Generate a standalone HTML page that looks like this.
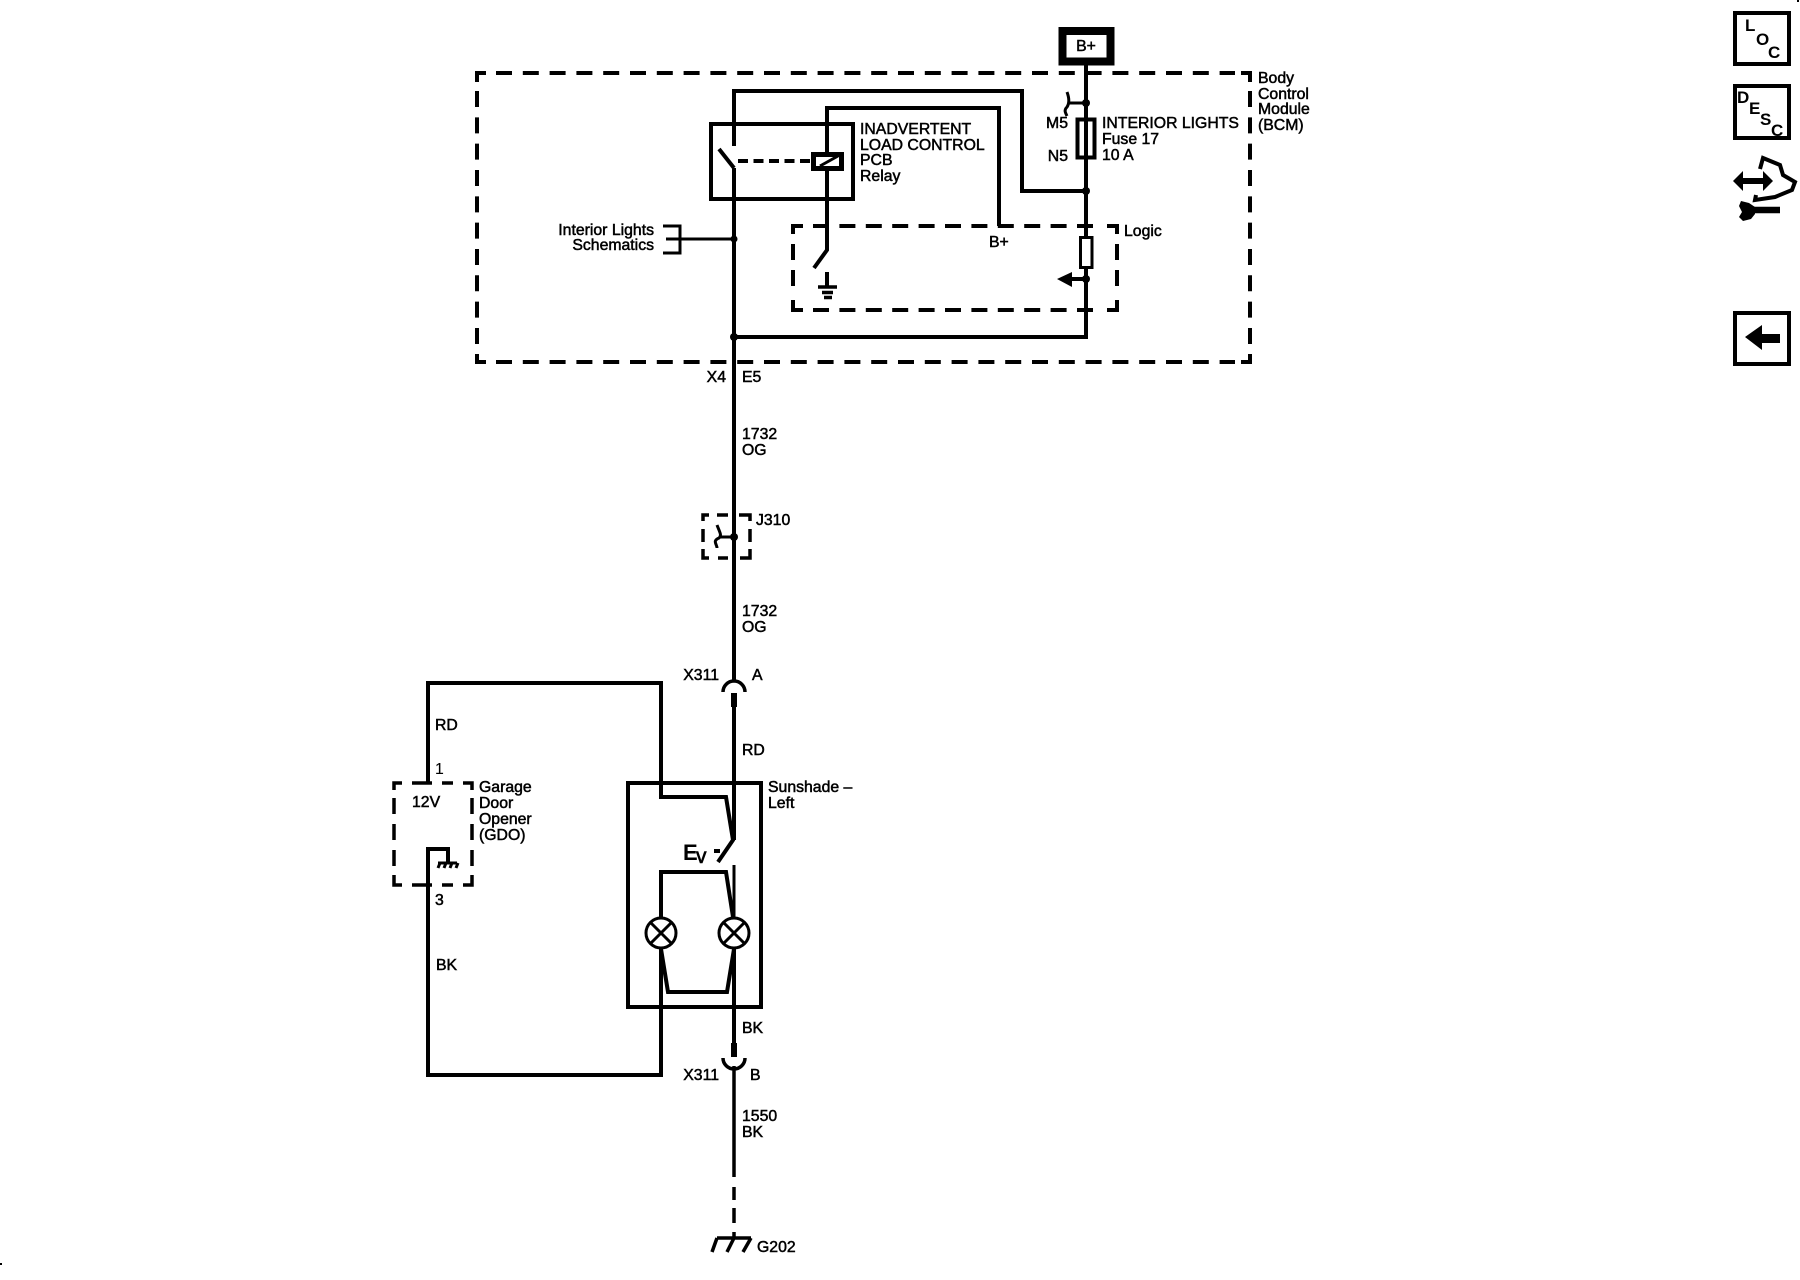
<!DOCTYPE html>
<html><head><meta charset="utf-8"><style>
html,body{margin:0;padding:0;background:#fff}
svg{display:block}
text{font-family:"Liberation Sans",sans-serif;font-size:15.8px;fill:#000;stroke:#000;stroke-width:.5px}
.i{font-weight:bold;font-size:17px;stroke:none}
</style></head><body>
<svg xmlns="http://www.w3.org/2000/svg" width="1800" height="1280" viewBox="0 0 1800 1280">
<rect width="1800" height="1280" fill="#fff"/>
<g fill="none" stroke="#000" stroke-width="4">
<!-- BCM dashed box -->
<path d="M486 73H477V82M477 354V362H486M1241 362H1250V354M1241 73H1250V82"/>
<path d="M496 73H1235M496 362H1235" stroke-dasharray="16 10.8"/>
<path d="M477 91V350M1250 91V350" stroke-dasharray="16 10.33"/>
<!-- Logic dashed -->
<path d="M803 226H793V234M793 300V310H803M1107 226H1117V234M1117 300V310H1107"/>
<path d="M813 226H1100M813 310H1100" stroke-dasharray="16 10.4"/>
<path d="M793 244V296M1117 244V296" stroke-dasharray="16 10"/>
<!-- B+ -->
<rect x="1062.500" y="31" width="48" height="30.500" stroke-width="8"/>
<!-- top wire -->
<path d="M1086 65V337H734"/>
<path d="M734 146V91H1022V191H1086"/>
<path d="M734 168V682M734 707V840" />
<path d="M719 149L734 168"/>
<!-- relay -->
<rect x="711" y="124" width="142" height="75"/>
<path d="M738 161H810" stroke-dasharray="10 5.500"/>
<rect x="813.500" y="154.500" width="28" height="14" stroke-width="5" fill="#fff"/>
<path d="M820 166L838 156" stroke-width="3"/>
<path d="M999 226V108H827V153M827 169V250L814 268"/>
<!-- ground -->
<path d="M827 272V286"/><path d="M818 287H837M822 292.500H833M824 297.500H832" stroke-width="3.500"/>
<!-- fuses -->
<rect x="1077.500" y="119.500" width="17" height="38" stroke-width="4"/>
<rect x="1080.500" y="237.500" width="11.500" height="30" fill="#fff" stroke-width="3"/>
<path d="M1086 103H1068M1067 92C1070 100 1069 104 1067 107C1064 110 1065 112 1067 116" stroke-width="3"/>
<path d="M1086 279H1070"/>
<path d="M666 239H734" stroke-width="3"/>
<path d="M663 226H680V253H663" stroke-width="3"/>
<!-- J310 -->
<path d="M703 521V515H709M717 515H728M739 515H750V521M750 529V542M750 549V558H740M728 558H718M709 558H703V549M703 542V529" stroke-width="3.500"/>
<path d="M734 537H720M717 525C720 533 722 535 719 538C712 541 717 544 717 548" stroke-width="3"/>
<!-- X311 A -->
<path d="M723 692A11 11 0 0 1 745 692" stroke-width="3.500"/>
<path d="M734 693V707" stroke-width="6"/>
<!-- sunshade -->
<rect x="628" y="783" width="133" height="224"/>
<path d="M428 783V683H661V797H726L733 840L718 862"/>
<path d="M714 851H720"/>
<path d="M734 865V917" stroke-width="3"/>
<path d="M661 918V872H726L733 917"/>
<g stroke-width="3">
<circle cx="661" cy="933" r="15"/><circle cx="734" cy="933" r="15"/>
<path d="M650.500 922.500L671.500 943.500M671.500 922.500L650.500 943.500M723.500 922.500L744.500 943.500M744.500 922.500L723.500 943.500"/>
</g>
<path d="M661 948V1075H428V849H448V863"/>
<path d="M661 949L668 992H727L734 949"/>
<path d="M734 948V1043"/>
<!-- GDO -->
<path d="M394 790V783H402M412 783H432M442 783H453M463 783H472V790M472 798V814M472 824V840M472 850V866M472 875V885H463M453 885H442M432 885H412M402 885H394V875M394 866V850M394 840V824M394 814V798" stroke-width="3.500"/>
<path d="M438 863H457M440 863L438 868M446 863L444 868M452 863L450 868M458 863L456 868" stroke-width="3"/>
<!-- X311 B -->
<path d="M734 1043V1057" stroke-width="6"/>
<path d="M723 1058A11 11 0 0 0 745 1058" stroke-width="3.500"/>
<path d="M734 1066V1177" stroke-width="3.500"/>
<path d="M734 1187V1200M734 1208V1223M734 1232V1238" stroke-width="3.500"/>
<path d="M717 1238H751M717 1238L712 1252M734 1238L727 1252M751 1238L743 1252" stroke-width="3.500"/>
</g>
<g fill="#000">
<path d="M1057 279L1072 272V287Z"/>
<circle cx="1086" cy="103" r="4"/><circle cx="1086" cy="191" r="4"/><circle cx="1086" cy="279" r="4"/>
<circle cx="734" cy="239" r="3.500"/><circle cx="734" cy="337" r="4"/><circle cx="734" cy="537" r="4"/>
<rect x="0" y="1263" width="2" height="2"/><rect x="1797" y="0" width="2" height="2"/>
</g>
<!-- labels -->
<text x="1086" y="51" text-anchor="middle">B+</text>
<text x="1258" y="83">Body</text><text x="1258" y="99">Control</text><text x="1258" y="114">Module</text><text x="1258" y="130">(BCM)</text>
<text x="1068" y="128" text-anchor="end">M5</text><text x="1068" y="161" text-anchor="end">N5</text>
<text x="1102" y="128">INTERIOR LIGHTS</text><text x="1102" y="144">Fuse 17</text><text x="1102" y="160">10 A</text>
<text x="1124" y="236">Logic</text>
<text x="860" y="134">INADVERTENT</text><text x="860" y="150">LOAD CONTROL</text><text x="860" y="165">PCB</text><text x="860" y="181">Relay</text>
<text x="989" y="247">B+</text>
<text x="654" y="235" text-anchor="end">Interior Lights</text><text x="654" y="250" text-anchor="end">Schematics</text>
<text x="726" y="382" text-anchor="end">X4</text><text x="742" y="382">E5</text>
<text x="742" y="439">1732</text><text x="742" y="455">OG</text>
<text x="756" y="525">J310</text>
<text x="742" y="616">1732</text><text x="742" y="632">OG</text>
<text x="719" y="680" text-anchor="end">X311</text><text x="752" y="680">A</text>
<text x="435" y="730">RD</text><text x="742" y="755">RD</text>
<text x="435" y="774" style="stroke-width:.1px">1</text><text x="412" y="807">12V</text>
<text x="479" y="792">Garage</text><text x="479" y="808">Door</text><text x="479" y="824">Opener</text><text x="479" y="840">(GDO)</text>
<text x="435" y="905">3</text><text x="436" y="970">BK</text>
<text x="768" y="792">Sunshade –</text><text x="768" y="808">Left</text>
<text x="742" y="1033">BK</text>
<text x="719" y="1080" text-anchor="end">X311</text><text x="750" y="1080">B</text>
<text x="742" y="1121">1550</text><text x="742" y="1137">BK</text>
<text x="757" y="1252">G202</text>
<text x="683" y="860" style="font-size:22px;font-weight:bold;stroke:none">E</text>
<text x="696" y="863" style="font-size:21px;stroke-width:.6px">v</text>
<!-- right icons -->
<g fill="none" stroke="#000" stroke-width="4">
<rect x="1735" y="13" width="54" height="51"/>
<rect x="1735" y="86" width="54" height="52"/>
<rect x="1735" y="313" width="54" height="51"/>
<path d="M1760 169L1763 158L1780 165L1783 175L1795 182L1792 190L1775 197L1755 200L1756 195" stroke-width="4"/>
<path d="M1740 181H1768" stroke-width="6"/>
<path d="M1745 210H1780" stroke-width="6.500"/>
</g>
<g fill="#000" stroke="none">
<path d="M1733 181L1743 171V191ZM1773 181L1763 171V191Z"/>
<path d="M1745 337L1762 325V334H1780V343H1762V350Z"/>
<path d="M1741 201L1749 203L1755 207V214L1751 219L1743 221L1739 217L1742 212L1739 206Z"/>
</g>
<text class="i" x="1745" y="31">L</text><text class="i" x="1756" y="45">O</text><text class="i" x="1768" y="58">C</text>
<text class="i" x="1737" y="103">D</text><text class="i" x="1749" y="114">E</text><text class="i" x="1760" y="125">S</text><text class="i" x="1771" y="136">C</text>
</svg>
</body></html>
